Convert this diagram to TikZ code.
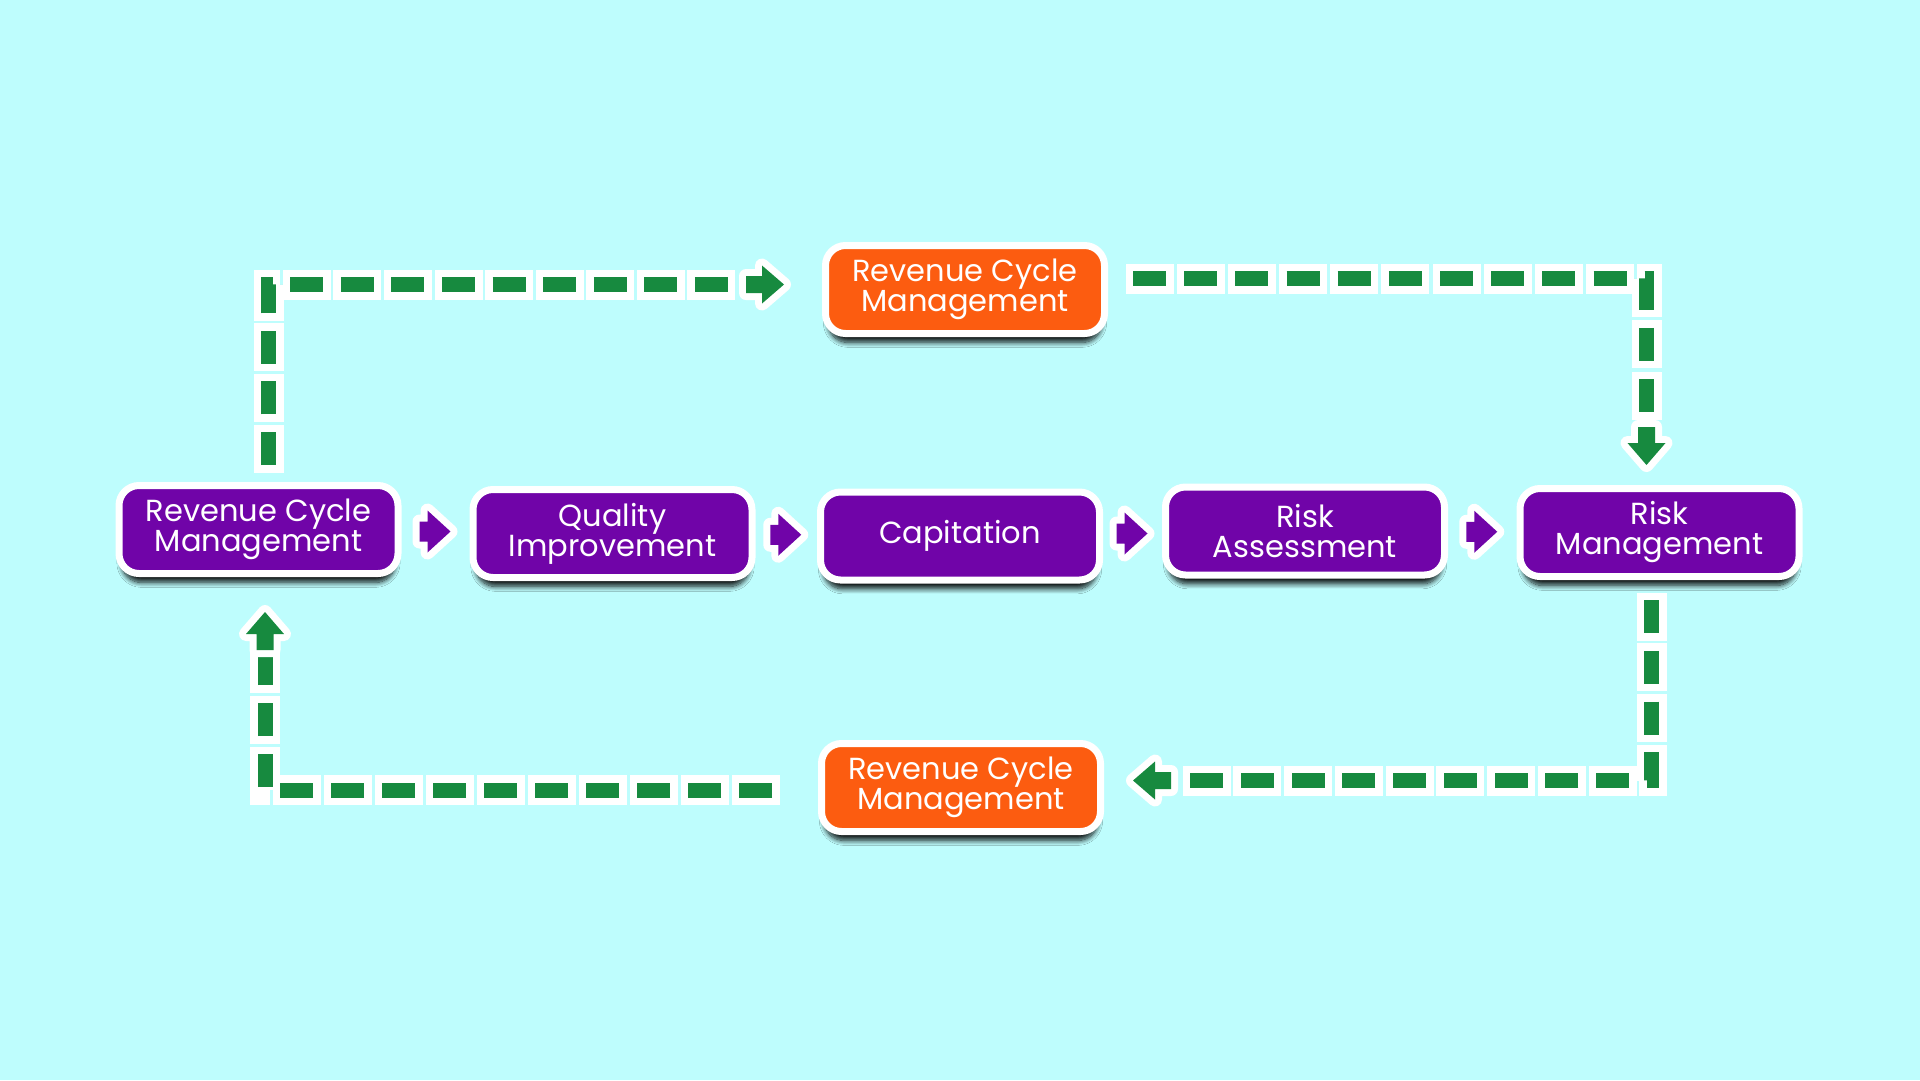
\documentclass[tikz,border=0pt]{standalone}
\usepackage{fontspec}
\setmainfont{Poppins}
\usetikzlibrary{calc,shadows.blur}
\definecolor{bgc}{HTML}{BEFDFD}
\definecolor{purp}{HTML}{7004A8}
\definecolor{orng}{HTML}{FC5C10}
\definecolor{grn}{HTML}{178A3F}
\definecolor{shad}{HTML}{102A2A}
\tikzset{
  box/.style={rectangle, rounded corners=20pt, draw=white, line width=7pt,
    minimum width=279pt, minimum height=88pt, text=white, align=center,
    font=\fontsize{30.5}{30}\selectfont, inner sep=0pt,
    blur shadow={shadow xshift=0pt, shadow yshift=-10pt, shadow scale=0.98, shadow blur radius=5pt, shadow opacity=90, shadow blur steps=10}},
  pbox/.style={box, fill=purp},
  obox/.style={box, fill=orng},
  dshadow/.style={draw=shad, opacity=0.15, line width=30pt, yshift=-4pt},
  dashw/.style={draw=white, line width=30pt},
  dashg/.style={draw=grn, line width=15pt},
  garrow/.pic={
    \draw[white, line width=14pt, line join=round, fill=white]
      (-38,-8.5) -- (-22,-8.5) -- (-22,-19) -- (0,0) -- (-22,19) -- (-22,8.5) -- (-38,8.5) -- cycle;
    \fill[grn]
      (-38,-8.5) -- (-22,-8.5) -- (-22,-19) -- (0,0) -- (-22,19) -- (-22,8.5) -- (-38,8.5) -- cycle;
  },
  parrow/.pic={
    \draw[white, line width=14pt, line join=round, fill=white]
      (-16,-10) -- (-8,-10) -- (-8,-21) -- (15,0) -- (-8,21) -- (-8,10) -- (-16,10) -- cycle;
    \fill[purp]
      (-16,-10) -- (-8,-10) -- (-8,-21) -- (15,0) -- (-8,21) -- (-8,10) -- (-16,10) -- cycle;
  }
}
% #1 green gap, #2 white gap, #3 white (extended) path, #4 green path
\newcommand\gconn[4]{%
  \draw[dshadow, dash pattern=on 48pt off #2pt] #3;
  \draw[dashw, dash pattern=on 48pt off #2pt] #3;
  \draw[dashg, dash pattern=on 33pt off #1pt] #4;}
\begin{document}
\begin{tikzpicture}[x=1pt,y=-1pt]
\useasboundingbox (0,0) rectangle (1920,1080);
\fill[bgc] (0,0) rectangle (1920,1080);

% connector end points
\coordinate (c1s) at (268.5,465);
\coordinate (c1e) at (728,284.5);
\coordinate (c1t) at (784,284.5);
\coordinate (c2s) at (1133,278.5);
\coordinate (c2e) at (1646.5,412);
\coordinate (c2t) at (1646.5,465);
\coordinate (c3s) at (1651.5,600);
\coordinate (c3e) at (1190,780.5);
\coordinate (c3t) at (1133,780.5);
\coordinate (c4s) at (772,790);
\coordinate (c4e) at (265,652);
\coordinate (c4t) at (265,612);

\gconn{17.58}{2.58}{($(c1s)+(0,7.5)$) |- ($(c1e)+(7.5,0)$)}{(c1s) |- (c1e)}
\gconn{18.17}{3.17}{($(c2s)+(-7.5,0)$) -| ($(c2e)+(0,7.5)$)}{(c2s) -| (c2e)}
\gconn{17.75}{2.75}{($(c3s)+(0,-7.5)$) |- ($(c3e)+(-7.5,0)$)}{(c3s) |- (c3e)}
\gconn{18}{3}{($(c4s)+(7.5,0)$) -| ($(c4e)+(0,-7.5)$)}{(c4s) -| (c4e)}

\pic at (c1t) {garrow};
\pic[rotate=-90] at (c2t) {garrow};
\pic[rotate=180] at (c3t) {garrow};
\pic[rotate=90] at (c4t) {garrow};

% boxes
\node[pbox] (rcm) at (258.5,529.5) {Revenue Cycle\\Management};
\node[pbox] (qi) at (612.5,533.5) {Quality\\Improvement};
\node[pbox] (cap) at (960,536) {Capitation};
\node[pbox] (ra) at (1305,531) {Risk\\Assessment};
\node[pbox] (rm) at (1659.5,532.5) {Risk\\Management};
\node[obox] (top) at (965,289.5) {Revenue Cycle\\Management};
\node[obox] (bot) at (961,787.5) {Revenue Cycle\\Management};

% small arrows between boxes
\coordinate (a1) at ($(rcm.east)!0.5!(qi.west)$);
\coordinate (a2) at ($(qi.east)!0.5!(cap.west)$);
\coordinate (a3) at ($(cap.east)!0.5!(ra.west)$);
\coordinate (a4) at ($(ra.east)!0.5!(rm.west)$);
\pic at (a1) {parrow};
\pic at (a2) {parrow};
\pic at (a3) {parrow};
\pic at (a4) {parrow};
\end{tikzpicture}
\end{document}
